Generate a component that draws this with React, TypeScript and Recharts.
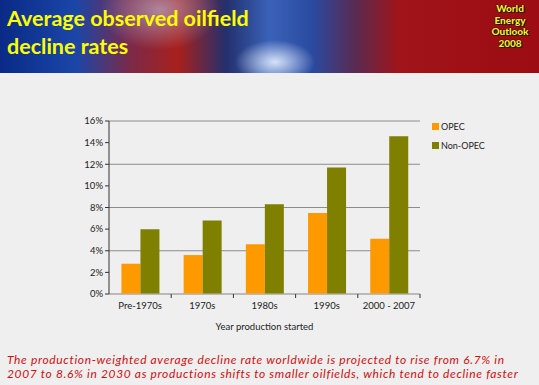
import React from "react";
import {
  Bar,
  BarChart,
  CartesianGrid,
  Label,
  Legend,
  XAxis,
  YAxis,
} from "recharts";

const periods = ["Pre-1970s", "1970s", "1980s", "1990s", "2000 - 2007"];
const opec = [2.8, 3.6, 4.6, 7.5, 5.1];
const nonOpec = [6.0, 6.8, 8.3, 11.7, 14.6];
const yTicks = [0, 2, 4, 6, 8, 10, 12, 14, 16];

const data = periods.map((p, i) => ({ period: p, opec: opec[i], nonOpec: nonOpec[i] }));

const font = "Lato, 'Open Sans', sans-serif";

const CategoryTick = (props: any) => {
  const { x, y, payload, width, visibleTicksCount } = props;
  const half = width && visibleTicksCount ? width / visibleTicksCount / 2 : 0;
  return (
    <g>
      <text x={x} y={y} dy="0.71em" textAnchor="middle" fontSize={9.5} fill="#222" fontFamily={font}>
        {payload.value}
      </text>
      {half > 0 && (
        <line x1={x + half} x2={x + half} y1={y - 8} y2={y - 4} stroke="#333" strokeWidth={1} />
      )}
    </g>
  );
};

const LegendBox = () => (
  <div style={{ fontFamily: font, fontSize: 9, color: "#222", paddingLeft: 12 }}>
    {[
      { name: "OPEC", color: "#FF9900" },
      { name: "Non-OPEC", color: "#808000" },
    ].map((it) => (
      <div key={it.name} style={{ display: "flex", alignItems: "center", height: 19 }}>
        <span style={{ width: 7, height: 7, background: it.color, marginRight: 2 }} />
        {it.name}
      </div>
    ))}
  </div>
);

export default function App() {
  return (
    <div style={{ position: "absolute", left: 0, top: 0, width: 539, height: 385, background: "#efefef", overflow: "hidden" }}>
      <div
        style={{
          position: "absolute",
          left: 0,
          top: 0,
          width: 539,
          height: 73,
          background:
            "radial-gradient(ellipse 40px 22px at 275px 62px, rgba(230,240,255,0.9), rgba(120,160,230,0) 100%)," +
            "radial-gradient(ellipse 60px 40px at 160px 10px, rgba(190,200,230,0.6), rgba(0,0,0,0) 100%)," +
            "linear-gradient(90deg, #0a2a86 0%, #1a46a8 14%, #7a2a4a 24%, #a8201c 33%, #23306e 42%, #3a62b8 50%, #2a4aa0 58%, #5a2a50 66%, #a0141a 74%, #9c0c12 100%)",
        }}
      />
      <div
        style={{
          position: "absolute",
          left: 7,
          top: 4,
          fontFamily: font,
          fontWeight: 700,
          fontSize: 21.5,
          lineHeight: "28px",
          color: "#ffff00",
          whiteSpace: "nowrap",
        }}
      >
        Average observed oilfield
        <br />
        decline rates
      </div>
      <div
        style={{
          position: "absolute",
          left: 480,
          width: 60,
          top: 3,
          textAlign: "center",
          fontFamily: font,
          fontWeight: 900,
          fontSize: 10,
          lineHeight: "11.5px",
          color: "#ffee33",
          textShadow: "0 0 1px #000, 0 0 1px #000, 1px 1px 0 #222",
        }}
      >
        World
        <br />
        Energy
        <br />
        Outlook
        <br />
        2008
      </div>

      <div style={{ position: "absolute", left: 60, top: 110 }}>
        <BarChart
          width={445}
          height={224}
          data={data}
          margin={{ top: 11, right: 5, left: 0, bottom: 0 }}
          barCategoryGap="20%"
          barGap={0}
        >
          <CartesianGrid vertical={false} stroke="#8c8c8c" />
          <XAxis
            dataKey="period"
            height={40}
            axisLine={{ stroke: "#b8b8b8" }}
            tickLine={false}
            tick={<CategoryTick />}
            interval={0}
          >
            <Label
              value="Year production started"
              position="insideBottom"
              offset={4}
              style={{ fontSize: 9.5, fill: "#222", fontFamily: font }}
            />
          </XAxis>
          <YAxis
            width={49}
            domain={[0, 16]}
            ticks={yTicks}
            tickFormatter={(v: number) => `${v}%`}
            axisLine={{ stroke: "#333" }}
            tickLine={{ stroke: "#333" }}
            tickSize={4}
            tick={{ fontSize: 9.5, fill: "#222", fontFamily: font }}
          />
          <Legend
            layout="vertical"
            verticalAlign="top"
            align="right"
            content={<LegendBox />}
            wrapperStyle={{ width: 80, top: 7 }}
          />
          <Bar dataKey="opec" name="OPEC" fill="#FF9900" isAnimationActive={false} />
          <Bar dataKey="nonOpec" name="Non-OPEC" fill="#808000" isAnimationActive={false} />
        </BarChart>
      </div>

      <div
        style={{
          position: "absolute",
          left: 7,
          top: 353,
          width: 530,
          fontFamily: font,
          fontStyle: "italic",
          fontSize: 12,
          letterSpacing: 0.65,
          lineHeight: "14px",
          color: "#d01010",
          whiteSpace: "nowrap",
        }}
      >
        The production-weighted average decline rate worldwide is projected to rise from 6.7% in
        <br />
        2007 to 8.6% in 2030 as productions shifts to smaller oilfields, which tend to decline faster
      </div>
    </div>
  );
}
